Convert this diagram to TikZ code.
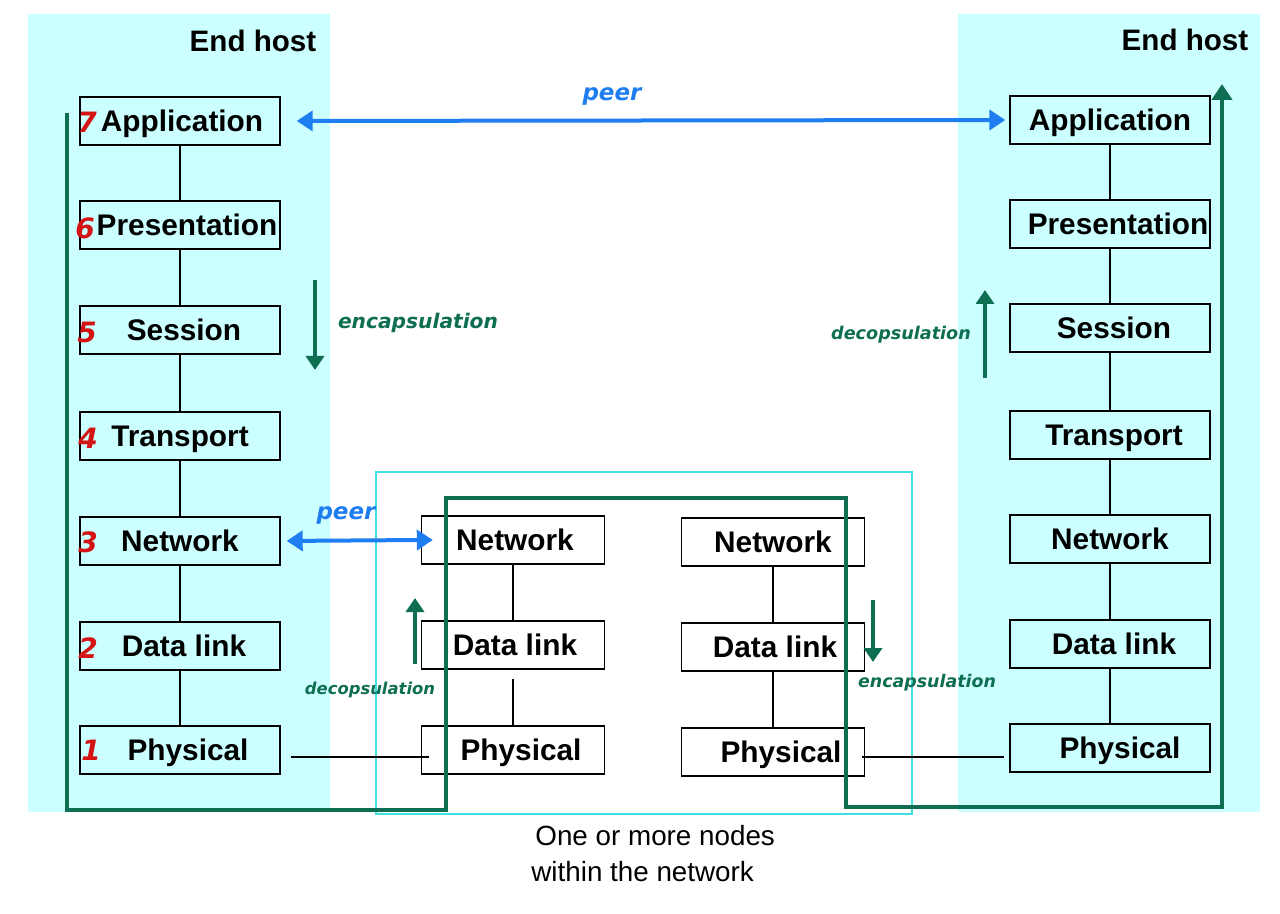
\documentclass[tikz,border=0pt]{standalone}
\usepackage{fontspec}
\setmainfont{Liberation Sans}
\newfontfamily\handfont{DejaVu Sans}
\usetikzlibrary{arrows.meta}
\definecolor{panel}{HTML}{CCFFFF}
\definecolor{midline}{HTML}{40E0E0}
\definecolor{pathgreen}{HTML}{0E6E52}
\definecolor{peerblue}{HTML}{1E7DF0}
\definecolor{numred}{HTML}{D41414}
\newcommand{\handsize}[1]{\handfont\fontsize{#1}{#1}\selectfont\bfseries\itshape}
\begin{document}
\begin{tikzpicture}[x=0.5pt,y=-0.5pt,
  layer/.style={draw=black, line width=0.7pt, fill=panel, minimum width=100pt, minimum height=24pt, inner sep=0pt, text height=10.7pt, text depth=0pt, font=\fontsize{14.9}{17}\selectfont\bfseries},
  midlayer/.style={layer, fill=white, minimum width=91.5pt},
  link/.style={draw=black, line width=0.6pt},
  hosttitle/.style={font=\fontsize{14.8}{17}\selectfont\bfseries, inner sep=0pt},
  num/.style={text=numred, font=\handsize{14}, inner sep=0pt},
  hand/.style={text=pathgreen, inner sep=0pt},
  peerlabel/.style={text=peerblue, font=\handsize{11.5}, inner sep=0pt},
  peer/.style={draw=peerblue, line width=2pt, {Triangle[width=10pt,length=8pt]}-{Triangle[width=10pt,length=8pt]}},
  flow/.style={draw=pathgreen, line width=2pt, -{Triangle[width=9pt,length=7pt]}},
  route/.style={draw=pathgreen, line width=2pt}
]
\useasboundingbox (0,0) rectangle (1280,914);
% panels
\fill[panel] (28,14) rectangle (330,812);
\fill[panel] (958,14) rectangle (1260,812);
\draw[midline, line width=0.8pt] (376,472) rectangle (912,814);

\node[hosttitle] (LT) at (253,41) {End host};
\node[hosttitle] (RT) at (1185,40) {End host};

% left stack
\node[layer] (LA) at (180,121) {\hspace*{2pt}Application};
\node[layer] (LPr) at (180,225) {\hspace*{7pt}Presentation};
\node[layer] (LS) at (180,330) {\hspace*{4pt}Session};
\node[layer] (LTr) at (180,436) {Transport};
\node[layer] (LN) at (180,541) {Network};
\node[layer] (LD) at (180,646) {\hspace*{4pt}Data link};
\node[layer] (LPh) at (180,750) {\hspace*{8pt}Physical};
% right stack
\node[layer] (RA) at (1110,120) {Application};
\node[layer] (RPr) at (1110,224) {\hspace*{8pt}Presentation};
\node[layer] (RS) at (1110,328) {\hspace*{4pt}Session};
\node[layer] (RTr) at (1110,435) {\hspace*{4pt}Transport};
\node[layer] (RN) at (1110,539) {Network};
\node[layer] (RD) at (1110,644) {\hspace*{4pt}Data link};
\node[layer] (RPh) at (1110,748) {\hspace*{10pt}Physical};
% middle left
\node[midlayer] (MN) at (513,540) {\hspace*{2pt}Network};
\node[midlayer] (MD) at (513,645) {\hspace*{2pt}Data link};
\node[midlayer] (MPh) at (513,750) {\hspace*{8pt}Physical};
% middle right
\node[midlayer] (NN) at (773,542) {Network};
\node[midlayer] (ND) at (773,647) {\hspace*{2pt}Data link};
\node[midlayer] (NPh) at (773,752) {\hspace*{8pt}Physical};

% numbers
\node[num] (n7) at (87,122) {7};
\node[num] (n6) at (85,228) {6};
\node[num] (n5) at (87,332) {5};
\node[num] (n4) at (88,438) {4};
\node[num] (n3) at (88,542) {3};
\node[num] (n2) at (88,648) {2};
\node[num] (n1) at (91,750) {1};

% vertical links
\foreach \a/\b in {LA/LPr,LPr/LS,LS/LTr,LTr/LN,LN/LD,LD/LPh,RA/RPr,RPr/RS,RS/RTr,RTr/RN,RN/RD,RD/RPh,MN/MD,ND/NPh,NN/ND}
  \draw[link] (\a) -- (\b);
\draw[link, shorten <=4.5pt] (MD.south) -- (MPh.north);
% physical links
\draw[link, shorten <=5pt] ([yshift=-3.5pt]LPh.east) -- ([yshift=-3.5pt, xshift=4pt]MPh.west);
\draw[link, shorten >=2.5pt] ([yshift=-2.5pt, xshift=-1.5pt]NPh.east) -- ([yshift=-4.5pt]RPh.west);

% green route
\coordinate (g0) at (67,113);
\coordinate (g1) at (67,810);
\coordinate (g2) at (446,810);
\coordinate (g3) at (446,498);
\coordinate (g4) at (846,498);
\coordinate (g5) at (846,807);
\coordinate (g6) at (1222,807);
\coordinate (g7) at (1222,84);
\draw[route, -{Triangle[width=10pt,length=8pt]}, line join=miter] (g0) -- (g1) -- (g2) -- (g3) -- (g4) -- (g5) -- (g6) -- (g7);

% peer arrows
\draw[peer, shorten <=8pt, shorten >=2pt] (LA.east) -- (RA.west);
\node[peerlabel] (p1) at (612,96) {peer};
\draw[peer, shorten <=3pt, shorten >=-6pt] (LN.east) -- (MN.west);
\node[peerlabel] (p2) at (346,515) {peer};

% encapsulation arrows
\coordinate (e1a) at (315,280); \coordinate (e1b) at (315,370);
\draw[flow] (e1a) -- (e1b);
\node[hand, font=\handsize{10.1}] (h1) at (418,323) {encapsulation};
\coordinate (e2a) at (985,378); \coordinate (e2b) at (985,290);
\draw[flow] (e2a) -- (e2b);
\node[hand, font=\handsize{8.8}] (h2) at (901,335) {decopsulation};
\coordinate (e3a) at (415,664); \coordinate (e3b) at (415,598);
\draw[flow] (e3a) -- (e3b);
\node[hand, font=\handsize{8.2}] (h3) at (370,690) {decopsulation};
\coordinate (e4a) at (873,600); \coordinate (e4b) at (873,662);
\draw[flow] (e4a) -- (e4b);
\node[hand, font=\handsize{8.7}] (h4) at (927,683) {encapsulation};

% caption
\node[anchor=north west, align=left, inner sep=0pt, font=\fontsize{13.9}{18}\selectfont] (cap) at (531,825) {\hspace*{2pt}One or more nodes\\within the network};
\end{tikzpicture}
\end{document}
